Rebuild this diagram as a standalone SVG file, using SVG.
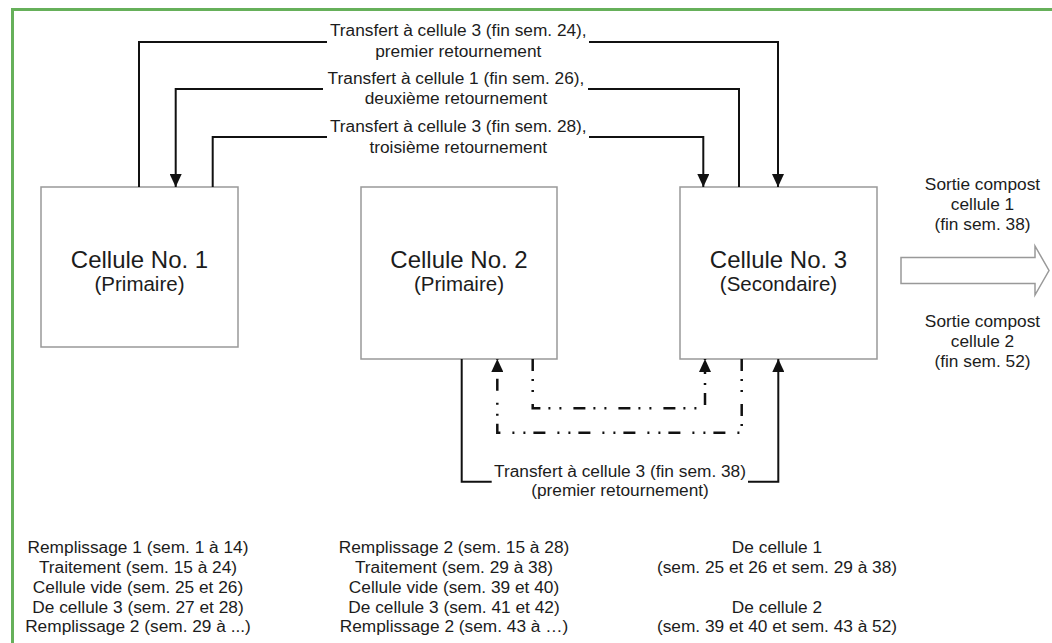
<svg xmlns="http://www.w3.org/2000/svg" width="1052" height="643" viewBox="0 0 1052 643">
<style>
  text { font-family: "Liberation Sans", Arial, sans-serif; fill: #1c1c1c; text-anchor: middle; }
  .big { font-size: 24px; }
  .sub { font-size: 20.5px; }
  .lbl { font-size: 17.3px; }
  .box { fill: #ffffff; stroke: #999999; stroke-width: 1.5; }
  .conn { fill: none; stroke: #111111; stroke-width: 2; }
  .dd { fill: none; stroke: #111111; stroke-width: 2.5; stroke-dasharray: 12 8 2 9 2 12; }
  .frame { fill: none; stroke: #66b05a; stroke-width: 3; }
</style>
<defs>
  <marker id="arr" viewBox="0 0 13 12" refX="13" refY="6" markerWidth="13" markerHeight="12" markerUnits="userSpaceOnUse" orient="auto">
    <path d="M0,0 L13,6 L0,12 z" fill="#111111" stroke="none"/>
  </marker>
</defs>
<rect width="1052" height="643" fill="#ffffff"/>
<path class="frame" d="M12.5,643 L12.5,9.5 L1052,9.5"/>

<g id="cell1">
  <rect class="box" x="41" y="187" width="197" height="160"/>
  <text class="big" x="139.5" y="268">Cellule No. 1</text>
  <text class="sub" x="139.5" y="291">(Primaire)</text>
</g>
<g id="cell2">
  <rect class="box" x="361" y="187" width="196" height="172"/>
  <text class="big" x="459" y="268">Cellule No. 2</text>
  <text class="sub" x="459" y="291">(Primaire)</text>
</g>
<g id="cell3">
  <rect class="box" x="680" y="187" width="197" height="172"/>
  <text class="big" x="778.5" y="268">Cellule No. 3</text>
  <text class="sub" x="778.5" y="291">(Secondaire)</text>
</g>
<g id="output">
  <path class="box" d="M901,257.5 L1035,257.5 L1035,246 L1049,270.5 L1035,295 L1035,283.5 L901,283.5 z"/>
  <text class="lbl" x="982.5" y="189.5">Sortie compost</text>
  <text class="lbl" x="982.5" y="210">cellule 1</text>
  <text class="lbl" x="982.5" y="230">(fin sem. 38)</text>
  <text class="lbl" x="982.5" y="327">Sortie compost</text>
  <text class="lbl" x="982.5" y="347">cellule 2</text>
  <text class="lbl" x="982.5" y="366.5">(fin sem. 52)</text>
</g>

<g id="connectors">
  <path class="conn" d="M139,187 L139,42 L327,42"/>
  <path class="conn" d="M589,42 L778,42 L778,187" marker-end="url(#arr)"/>
  <path class="conn" d="M323,89 L175.7,89 L175.7,187" marker-end="url(#arr)"/>
  <path class="conn" d="M588,89 L739,89 L739,187"/>
  <path class="conn" d="M212.7,187 L212.7,137 L327,137"/>
  <path class="conn" d="M589,137 L703.3,137 L703.3,187" marker-end="url(#arr)"/>
  <path class="conn" d="M461.7,359 L461.7,481.7 L491.7,481.7"/>
  <path class="conn" d="M748,481.7 L778.3,481.7 L778.3,359" marker-end="url(#arr)"/>
  <path class="dd" d="M532.7,359 L532.7,408.3 L705,408.3 L705,359" marker-end="url(#arr)"/>
  <path class="dd" d="M741.7,359 L741.7,432.7 L497.3,432.7 L497.3,359" marker-end="url(#arr)"/>
</g>

<g id="labels">
  <text class="lbl" x="458.3" y="36">Transfert à cellule 3 (fin sem. 24),</text>
  <text class="lbl" x="458.3" y="56.5">premier retournement</text>
  <text class="lbl" x="456" y="83.5">Transfert à cellule 1 (fin sem. 26),</text>
  <text class="lbl" x="456" y="104">deuxième retournement</text>
  <text class="lbl" x="458.3" y="132">Transfert à cellule 3 (fin sem. 28),</text>
  <text class="lbl" x="458.3" y="152.5">troisième retournement</text>
  <text class="lbl" x="620" y="477">Transfert à cellule 3 (fin sem. 38)</text>
  <text class="lbl" x="620" y="496">(premier retournement)</text>
</g>

<g id="notes1">
  <text class="lbl" x="138" y="552.5">Remplissage 1 (sem. 1 à 14)</text>
  <text class="lbl" x="138" y="572.5">Traitement (sem. 15 à 24)</text>
  <text class="lbl" x="138" y="592.5">Cellule vide (sem. 25 et 26)</text>
  <text class="lbl" x="138" y="612.5">De cellule 3 (sem. 27 et 28)</text>
  <text class="lbl" x="138" y="632">Remplissage 2 (sem. 29 à ...)</text>
</g>
<g id="notes2">
  <text class="lbl" x="454" y="552.5">Remplissage 2 (sem. 15 à 28)</text>
  <text class="lbl" x="454" y="572.5">Traitement (sem. 29 à 38)</text>
  <text class="lbl" x="454" y="592.5">Cellule vide (sem. 39 et 40)</text>
  <text class="lbl" x="454" y="612.5">De cellule 3 (sem. 41 et 42)</text>
  <text class="lbl" x="454" y="632">Remplissage 2 (sem. 43 à …)</text>
</g>
<g id="notes3">
  <text class="lbl" x="777" y="552.5">De cellule 1</text>
  <text class="lbl" x="777" y="572.5">(sem. 25 et 26 et sem. 29 à 38)</text>
  <text class="lbl" x="777" y="612.5">De cellule 2</text>
  <text class="lbl" x="777" y="632">(sem. 39 et 40 et sem. 43 à 52)</text>
</g>
</svg>
